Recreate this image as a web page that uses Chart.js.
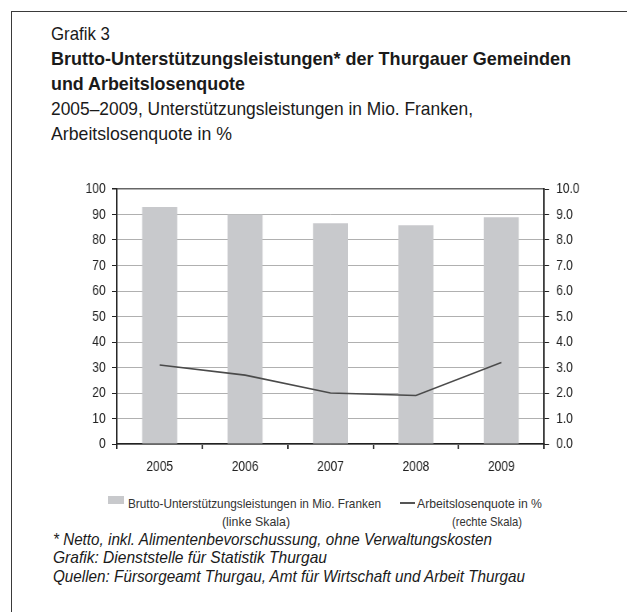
<!DOCTYPE html>
<html>
<head>
<meta charset="utf-8">
<script src="https://cdn.jsdelivr.net/npm/chart.js@4/dist/chart.umd.min.js"></script>
<style>
  body { margin: 0; background: #fff; width: 627px; height: 612px; position: relative; overflow: hidden;
         font-family: "Liberation Sans", Arial, sans-serif; color: #1a1a1a; }
  .frame { position: absolute; left: 11px; top: 11px; width: 640px; height: 640px;
           border-top: 1.5px solid #3a3a3a; border-left: 1.5px solid #3a3a3a; }
  .t { position: absolute; white-space: nowrap; line-height: 1; transform-origin: 0 0; }
  .b { font-weight: bold; }
  .i { font-style: italic; }
  .lg { color: #333; }
  #wrap { position: absolute; left: 60px; top: 170px; width: 675px; height: 310px;
          transform: scaleX(0.8); transform-origin: 0 0; }
  .sw { position: absolute; left: 108px; top: 496px; width: 16px; height: 8px; background: #c8c9cc; }
  .ln { position: absolute; left: 400px; top: 502px; width: 15px; height: 1.5px; background: #555; }
</style>
</head>
<body>
<div class="frame"></div>

<div class="t" data-x="51" data-b="41" data-w="59" data-f="18.5">Grafik 3</div>
<div class="t b" data-x="51" data-b="66" data-w="520" data-f="18.5">Brutto-Unterstützungsleistungen* der Thurgauer Gemeinden</div>
<div class="t b" data-x="51" data-b="91" data-w="194" data-f="18.5">und Arbeitslosenquote</div>
<div class="t" data-x="51" data-b="116" data-w="422" data-f="18.5">2005–2009, Unterstützungsleistungen in Mio. Franken,</div>
<div class="t" data-x="51" data-b="141" data-w="181" data-f="18.5">Arbeitslosenquote in %</div>

<div id="wrap"><canvas id="chart" width="675" height="310"></canvas></div>

<div class="sw"></div>
<div class="t lg" data-x="128" data-b="508" data-w="253" data-f="13">Brutto-Unterstützungsleistungen in Mio. Franken</div>
<div class="t lg" data-x="222" data-b="526" data-w="68" data-f="13">(linke Skala)</div>
<div class="ln"></div>
<div class="t lg" data-x="417" data-b="508" data-w="125" data-f="13">Arbeitslosenquote in %</div>
<div class="t lg" data-x="452" data-b="526" data-w="70" data-f="13">(rechte Skala)</div>

<div class="t i" data-x="53" data-b="545" data-w="439" data-f="17">* Netto, inkl. Alimentenbevorschussung, ohne Verwaltungskosten</div>
<div class="t i" data-x="53" data-b="563" data-w="274" data-f="17">Grafik: Dienststelle für Statistik Thurgau</div>
<div class="t i" data-x="53" data-b="582" data-w="472" data-f="17">Quellen: Fürsorgeamt Thurgau, Amt für Wirtschaft und Arbeit Thurgau</div>

<script>
// Data
const years = ['2005', '2006', '2007', '2008', '2009'];
const leistungen = [92.9, 90.0, 86.6, 85.8, 88.9];       // Mio. Franken, left scale
const arbeitslosenquote = [3.1, 2.7, 2.0, 1.9, 3.2];     // %, right scale

const FONT = "'Liberation Sans', Arial, sans-serif";

// Place text lines by baseline and squeeze them to the condensed widths of the original
document.querySelectorAll('.t').forEach(el => {
    const f = parseFloat(el.dataset.f);
    el.style.fontSize = f + 'px';
    el.style.left = el.dataset.x + 'px';
    el.style.top = (parseFloat(el.dataset.b) - 0.8465 * f) + 'px';
    const natural = el.getBoundingClientRect().width;
    el.style.transform = 'scaleX(' + (parseFloat(el.dataset.w) / natural) + ')';
});

// Chart is drawn 1.25x wider and squeezed by CSS to get condensed labels
new Chart(document.getElementById('chart'), {
    type: 'bar',
    data: {
        labels: years,
        datasets: [
            {
                type: 'line',
                label: 'Arbeitslosenquote in %',
                data: arbeitslosenquote,
                yAxisID: 'y1',
                borderColor: '#4a4a4a',
                borderWidth: 1.6,
                pointRadius: 0,
                tension: 0,
                order: 0
            },
            {
                label: 'Brutto-Unterstützungsleistungen in Mio. Franken',
                data: leistungen,
                yAxisID: 'y',
                backgroundColor: '#c8c9cc',
                barPercentage: 0.41,
                categoryPercentage: 1,
                order: 1
            }
        ]
    },
    options: {
        responsive: false,
        animation: false,
        layout: { padding: { top: 19, left: 0, right: 0, bottom: 0 } },
        plugins: { legend: { display: false }, tooltip: { enabled: false } },
        scales: {
            x: {
                afterFit: s => { s.height = 36; },
                grid: { drawOnChartArea: false, tickLength: 5, tickColor: '#222', offset: true, lineWidth: 1.8 },
                border: { color: '#222', width: 1.5 },
                ticks: { color: '#222', padding: 9, font: { family: FONT, size: 15 } }
            },
            y: {
                position: 'left',
                min: 0, max: 100,
                afterFit: s => { s.width = 71.25; },
                ticks: { stepSize: 10, color: '#222', padding: 8, font: { family: FONT, size: 15 } },
                grid: {
                    tickLength: 6.25,
                    tickColor: '#222',
                    color: ctx => ctx.tick && ctx.tick.value === 100 ? '#666' : '#b0b0b0',
                    lineWidth: ctx => ctx.tick && ctx.tick.value === 100 ? 1.5 : 1
                },
                border: { color: '#222', width: 1.8 }
            },
            y1: {
                position: 'right',
                min: 0, max: 10,
                afterFit: s => { s.width = 70; },
                ticks: { stepSize: 1, color: '#222', padding: 9, font: { family: FONT, size: 15 },
                         callback: v => v.toFixed(1) },
                grid: { drawOnChartArea: false, tickLength: 6.25, tickColor: '#222' },
                border: { color: '#222', width: 1.8 }
            }
        }
    }
});
</script>
</body>
</html>
